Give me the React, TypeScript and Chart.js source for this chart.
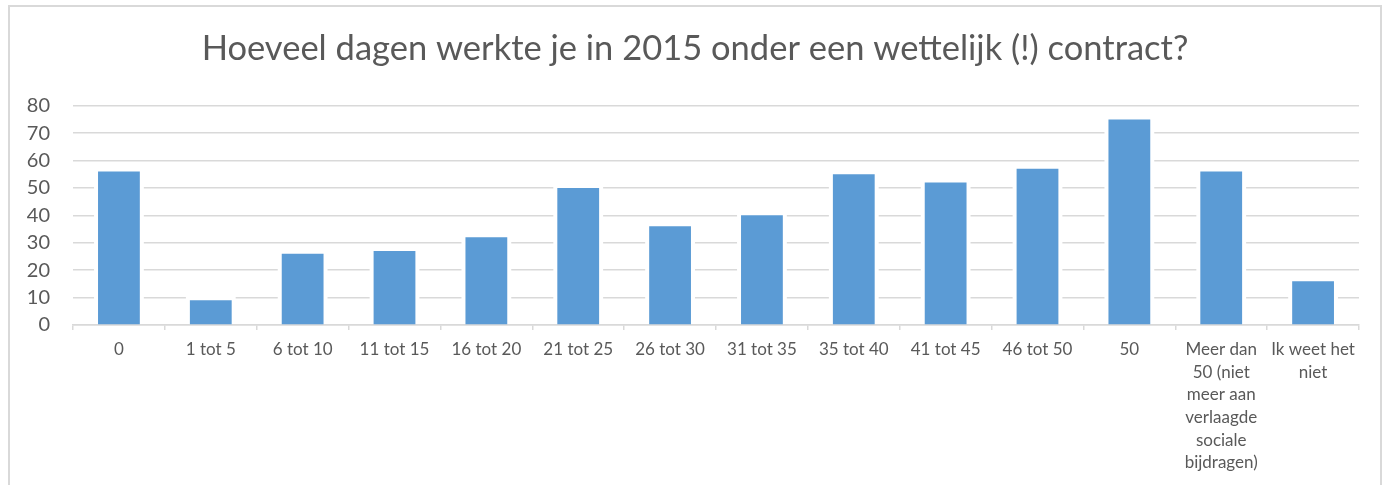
import React, { useEffect, useRef } from "react";
import { Chart, registerables } from "chart.js";

Chart.register(...registerables);

const TITLE = "Hoeveel dagen werkte je in 2015 onder een wettelijk (!) contract?";

const categories: (string | string[])[] = [
  "0",
  "1 tot 5",
  "6 tot 10",
  "11 tot 15",
  "16 tot 20",
  "21 tot 25",
  "26 tot 30",
  "31 tot 35",
  "35 tot 40",
  "41 tot 45",
  "46 tot 50",
  "50",
  ["Meer dan", "50 (niet", "meer aan", "verlaagde", "sociale", "bijdragen)"],
  ["Ik weet het", "niet"],
];

const counts = [56, 9, 26, 27, 32, 50, 36, 40, 55, 52, 57, 75, 56, 16];

const yMin = 0;
const yMax = 80;
const yStep = 10;

const haloPlugin = {
  id: "barHalo",
  beforeDatasetsDraw(chart: any) {
    const ctx = chart.ctx;
    const meta = chart.getDatasetMeta(0);
    ctx.save();
    ctx.fillStyle = "#ffffff";
    meta.data.forEach((el: any) => {
      const p = el.getProps(["x", "y", "base", "width"], true);
      const pad = 4;
      ctx.fillRect(p.x - p.width / 2 - pad, p.y - pad, p.width + pad * 2, p.base - 1 - (p.y - pad));
    });
    ctx.restore();
  },
};

const centeredTitlePlugin = {
  id: "centeredTitle",
  afterDraw(chart: any) {
    const ctx = chart.ctx;
    ctx.save();
    ctx.fillStyle = "#595959";
    ctx.font = "normal 34.5px Lato";
    ctx.textAlign = "center";
    ctx.textBaseline = "middle";
    ctx.fillText(TITLE, chart.width / 2, 42);
    ctx.restore();
  },
};

export default function App() {
  const ref = useRef<HTMLCanvasElement | null>(null);

  useEffect(() => {
    if (!ref.current) return;
    const chart = new Chart(ref.current, {
      type: "bar",
      data: {
        labels: categories,
        datasets: [
          {
            data: counts,
            backgroundColor: "#5b9bd5",
            borderWidth: 0,
            barPercentage: 0.455,
            categoryPercentage: 1,
          },
        ],
      },
      options: {
        responsive: false,
        animation: false,
        devicePixelRatio: 1,
        layout: { padding: { left: 0, right: 21, top: 98.7, bottom: 0 } },
        plugins: {
          legend: { display: false },
          tooltip: { enabled: false },
          title: { display: false },
        },
        scales: {
          x: {
            grid: {
              display: true,
              drawOnChartArea: false,
              drawTicks: true,
              tickLength: 5,
              color: "#d9d9d9",
              lineWidth: 1.5,
            },
            border: { display: true, color: "#d9d9d9", width: 1.5 },
            ticks: {
              color: "#595959",
              font: { family: "Lato", size: 17, lineHeight: 1.335 },
              maxRotation: 0,
              minRotation: 0,
              autoSkip: false,
              padding: 8,
            },
            afterFit(scale: any) {
              scale.height = 160;
            },
          },
          y: {
            min: yMin,
            max: yMax,
            grid: { color: "#d9d9d9", lineWidth: 1.5, drawTicks: false },
            border: { display: false },
            ticks: {
              stepSize: yStep,
              color: "#595959",
              font: { family: "Lato", size: 20 },
              padding: 23,
            },
            afterFit(scale: any) {
              scale.width = 63;
            },
          },
        },
      },
      plugins: [haloPlugin, centeredTitlePlugin],
    });
    return () => chart.destroy();
  }, []);

  return (
    <div
      style={{
        position: "fixed",
        left: 0,
        top: 0,
        width: 1390,
        height: 485,
        background: "#ffffff",
        overflow: "hidden",
      }}
    >
      <div
        style={{
          position: "absolute",
          left: 8,
          top: 5,
          width: 1374,
          height: 500,
          boxSizing: "border-box",
          border: "2px solid #d9d9d9",
          background: "#ffffff",
        }}
      />
      <canvas
        ref={ref}
        width={1370}
        height={478}
        style={{ position: "absolute", left: 10, top: 7, width: 1370, height: 478 }}
      />
    </div>
  );
}
